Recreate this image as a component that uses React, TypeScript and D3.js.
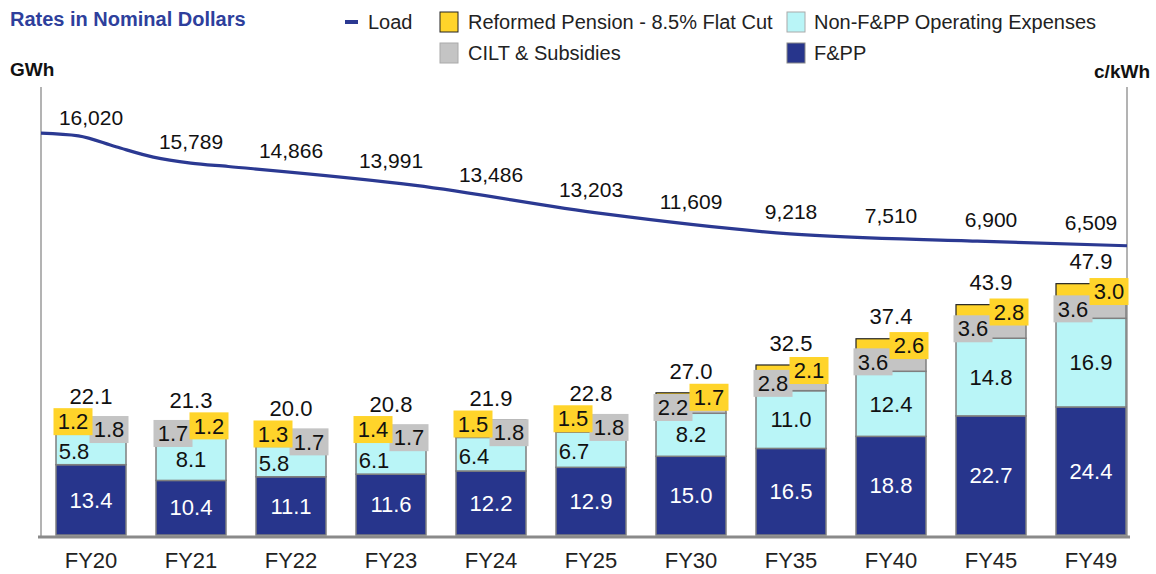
import React from 'react';
import * as d3 from 'd3';

const categories = ['FY20', 'FY21', 'FY22', 'FY23', 'FY24', 'FY25', 'FY30', 'FY35', 'FY40', 'FY45', 'FY49'];
const loadYears = [2020, 2021, 2022, 2023, 2024, 2025, 2030, 2035, 2040, 2045, 2049];
const loadGWh = [16020, 15789, 14866, 13991, 13486, 13203, 11609, 9218, 7510, 6900, 6509];
const fpp = [13.4, 10.4, 11.1, 11.6, 12.2, 12.9, 15.0, 16.5, 18.8, 22.7, 24.4];
const nonFpp = [5.8, 8.1, 5.8, 6.1, 6.4, 6.7, 8.2, 11.0, 12.4, 14.8, 16.9];
const cilt = [1.8, 1.7, 1.7, 1.7, 1.8, 1.8, 2.2, 2.8, 3.6, 3.6, 3.6];
const pension = [1.2, 1.2, 1.3, 1.4, 1.5, 1.5, 1.7, 2.1, 2.6, 2.8, 3.0];
const totals = [22.1, 21.3, 20.0, 20.8, 21.9, 22.8, 27.0, 32.5, 37.4, 43.9, 47.9];
// which side the pension label box sits on
const pensionSide = ['L', 'R', 'L', 'L', 'L', 'L', 'R', 'R', 'R', 'R', 'R'];

const W = 1156;
const H = 574;
const FONT = 'Liberation Sans, Arial, Helvetica, sans-serif';

const C_FPP = '#27358c';
const C_NON = '#b9f5f7';
const C_CILT = '#c4c4c4';
const C_PEN = '#ffd42a';
const C_LOAD = '#2b3992';
const C_TITLE = '#2e3f9c';

const plotL = 41;
const plotR = 1127;
const plotT = 87;
const baseY = 535;

export default function App() {
  const x = d3.scaleBand<string>().domain(categories).range([41, 1141]).paddingInner(0.3).paddingOuter(0.15);
  const y = d3.scaleLinear().domain([0, 85]).range([baseY, 89]);
  const xYear = d3.scaleLinear().domain([2020, 2049]).range([plotL, plotR]);
  const yLoad = d3.scaleLinear().domain([-18000, 20000]).range([536, 86]);

  const pts: [number, number][] = loadYears.map((yr, i) => [xYear(yr), yLoad(loadGWh[i])]);
  const line = d3.line<[number, number]>().curve(d3.curveMonotoneX)(pts) || '';

  const lineYAt = (px: number) => {
    for (let i = 0; i < pts.length - 1; i++) {
      if (px >= pts[i][0] && px <= pts[i + 1][0]) {
        const t = (px - pts[i][0]) / (pts[i + 1][0] - pts[i][0]);
        return pts[i][1] + t * (pts[i + 1][1] - pts[i][1]);
      }
    }
    return pts[pts.length - 1][1];
  };

  const bw = x.bandwidth();
  const fmt = d3.format('.1f');
  const fmtLoad = d3.format(',');

  const boxW = 39;
  const boxH = 27;

  return (
    <svg width={W} height={H} style={{ position: 'absolute', left: 0, top: 0, background: '#fff' }} fontFamily={FONT}>
      {/* Title */}
      <text x={10} y={26} fontSize={20} fontWeight="bold" fill={C_TITLE}>Rates in Nominal Dollars</text>
      <text x={10} y={76} fontSize={19} fontWeight="bold" fill="#111">GWh</text>
      <text x={1150} y={78} fontSize={19} fontWeight="bold" fill="#111" textAnchor="end">c/kWh</text>

      {/* Legend */}
      <g fontSize={20} fill="#222">
        <line x1={345} x2={358} y1={22} y2={22} stroke={C_LOAD} strokeWidth={4} />
        <text x={368} y={22} dy="0.35em">Load</text>
        <rect x={440} y={12} width={18} height={20} fill={C_PEN} stroke="#222" strokeWidth={1} />
        <text x={468} y={22} dy="0.35em">Reformed Pension - 8.5% Flat Cut</text>
        <rect x={787} y={12} width={18} height={20} fill={C_NON} stroke="#aaa" strokeWidth={1} />
        <text x={814} y={22} dy="0.35em">Non-F&amp;PP Operating Expenses</text>
        <rect x={440} y={43} width={18} height={20} fill={C_CILT} stroke="#aaa" strokeWidth={1} />
        <text x={468} y={53} dy="0.35em">CILT &amp; Subsidies</text>
        <rect x={787} y={43} width={18} height={20} fill={C_FPP} stroke="#888" strokeWidth={1} />
        <text x={814} y={53} dy="0.35em">F&amp;PP</text>
      </g>

      {/* Axes lines */}
      <line x1={plotL} x2={plotL} y1={plotT} y2={baseY + 1} stroke="#9a9a9a" strokeWidth={1.5} />
      <line x1={plotR} x2={plotR} y1={plotT} y2={baseY + 1} stroke="#9a9a9a" strokeWidth={1.5} />

      {/* Bars */}
      {categories.map((c, i) => {
        const x0 = x(c) as number;
        const cx = x0 + bw / 2;
        const y0 = y(0);
        const y1 = y(fpp[i]);
        const y2 = y(fpp[i] + nonFpp[i]);
        const y3 = y(fpp[i] + nonFpp[i] + cilt[i]);
        const y4 = y(fpp[i] + nonFpp[i] + cilt[i] + pension[i]);
        const penLeft = pensionSide[i] === 'L';
        const penCx = cx + (penLeft ? -18 : 18);
        const ciltCx = cx + (penLeft ? 18 : -18);
        const penCy = (y3 + y4) / 2;
        const ciltCy = (y2 + y3) / 2;
        const nonCx = penLeft ? cx - 17 : cx;
        const nonCy = (y1 + y2) / 2 + (penLeft ? 2 : 0);
        return (
          <g key={c}>
            <rect x={x0} y={y1} width={bw} height={y0 - y1} fill={C_FPP} stroke="#7f7f7f" strokeWidth={1.5} />
            <rect x={x0} y={y2} width={bw} height={y1 - y2} fill={C_NON} stroke="#7f7f7f" strokeWidth={1.5} />
            <rect x={x0} y={y3} width={bw} height={y2 - y3} fill={C_CILT} stroke="#7f7f7f" strokeWidth={1.5} />
            <rect x={x0} y={y4} width={bw} height={y3 - y4} fill={C_PEN} stroke="#222" strokeWidth={1.2} />
            <text x={cx} y={(y0 + y1) / 2} dy="0.35em" textAnchor="middle" fontSize={22} fill="#fff">{fmt(fpp[i])}</text>
            <text x={nonCx} y={nonCy} dy="0.35em" textAnchor="middle" fontSize={22} fill="#111">{fmt(nonFpp[i])}</text>
            <rect x={ciltCx - boxW / 2} y={ciltCy - boxH / 2} width={boxW} height={boxH} fill={C_CILT} />
            <text x={ciltCx} y={ciltCy} dy="0.35em" textAnchor="middle" fontSize={22} fill="#111">{fmt(cilt[i])}</text>
            <rect x={penCx - boxW / 2} y={penCy - boxH / 2} width={boxW} height={boxH} fill={C_PEN} />
            <text x={penCx} y={penCy} dy="0.35em" textAnchor="middle" fontSize={22} fill="#111">{fmt(pension[i])}</text>
            <text x={cx} y={y4 - 22} dy="0.35em" textAnchor="middle" fontSize={22} fill="#111">{fmt(totals[i])}</text>
            <text x={cx} y={560} dy="0.35em" textAnchor="middle" fontSize={22} fill="#222">{c}</text>
          </g>
        );
      })}

      {/* Baseline */}
      <line x1={plotL - 3} x2={plotR + 3} y1={baseY + 2} y2={baseY + 2} stroke="#8a8a8a" strokeWidth={3} />

      {/* Load line */}
      <path d={line} fill="none" stroke={C_LOAD} strokeWidth={3.2} />
      {categories.map((c, i) => {
        const cx = (x(c) as number) + bw / 2;
        return (
          <text key={'l' + c} x={cx} y={lineYAt(cx) - 22} dy="0.35em" textAnchor="middle" fontSize={21} fill="#111">
            {fmtLoad(loadGWh[i])}
          </text>
        );
      })}
    </svg>
  );
}
